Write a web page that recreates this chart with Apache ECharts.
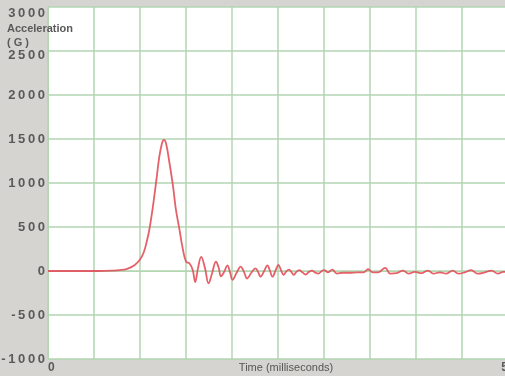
<!DOCTYPE html>
<html>
<head>
<meta charset="utf-8">
<script src="https://cdn.jsdelivr.net/npm/echarts@6/dist/echarts.min.js"></script>
<style>
	html, body { margin: 0; padding: 0; background: #d6d4d0; }
	#chart { width: 505px; height: 376px; }
</style>
</head>
<body>
<div id="chart"></div>
<script>
	// time in milliseconds
	var timeMs = [0, 0.3, 0.55, 0.7, 0.78, 0.86, 0.94, 1.0, 1.04, 1.07, 1.1, 1.14, 1.18, 1.21, 1.24, 1.26, 1.285, 1.32, 1.36, 1.39,
		1.43, 1.46, 1.5, 1.537, 1.573, 1.6, 1.63, 1.665, 1.705, 1.745, 1.785, 1.825, 1.855, 1.88, 1.915, 1.95, 1.98, 2.005, 2.05, 2.095,
		2.13, 2.165, 2.21, 2.255, 2.285, 2.31, 2.35, 2.385, 2.41, 2.44, 2.475, 2.505, 2.535, 2.56, 2.59, 2.62, 2.645, 2.67, 2.7, 2.73,
		2.765, 2.8, 2.835, 2.87, 2.9, 2.94, 2.97, 3.0, 3.045, 3.09, 3.14, 3.2, 3.28, 3.36, 3.43, 3.48, 3.53, 3.59, 3.665, 3.72,
		3.79, 3.86, 3.92, 3.99, 4.06, 4.13, 4.19, 4.26, 4.33, 4.4, 4.46, 4.53, 4.6, 4.67, 4.75, 4.82, 4.89, 4.95, 5.0];
	// acceleration in G
	var accelG = [0, 0, 0, 4, 10, 25, 65, 130, 210, 320, 460, 730, 1050, 1300, 1455, 1490, 1440, 1230, 955, 700,
		465, 280, 106, 88, 11, -125, 30, 160, 40, -140, -20, 105, 40, -60, -10, 65, -20, -100, -20, 50,
		-10, -85, -20, 30, -15, -65, 0, 65, 10, -65, 10, 68, 5, -45, -5, 15, -10, -45, -10, 10,
		-15, -40, -10, 5, -15, -30, -5, 10, -15, 15, -30, -20, -20, -15, -15, 20, -15, -15, 35, -30,
		-25, 5, -30, -10, -25, 5, -30, -15, -30, 5, -30, -15, 10, -30, -15, 5, -30, -10, -15];

	var xLabels = [0, 5];

	var points = [];
	for (var i = 0; i < timeMs.length; i++) {
		points.push([timeMs[i], accelG[i]]);
	}

	function spaced(v) {
		return String(v).split('').join('\u2009');
	}

	var gridGreen = '#b2d6b2';

	var myChart = echarts.init(document.getElementById('chart'));

	option = {
		backgroundColor: '#d6d4d0',
		animation: false,
		title: {
			text: 'Acceleration\n( G )',
			left: 7,
			top: 22,
			padding: 0,
			textStyle: {
				fontFamily: 'Liberation Sans',
				fontSize: 11,
				fontWeight: 'bold',
				color: '#5a5a5a',
				lineHeight: 14
			}
		},
		grid: {
			left: 48,
			right: -3,
			top: 7,
			bottom: 17,
			outerBoundsMode: 'none',
			containLabel: false,
			show: true,
			backgroundColor: '#ffffff',
			borderWidth: 0
		},
		xAxis: {
			type: 'value',
			min: 0,
			max: 5,
			interval: 0.5,
			name: 'Time (milliseconds)',
			nameLocation: 'middle',
			nameGap: 3,
			nameMoveOverlap: false,
			nameTextStyle: {
				fontFamily: 'Liberation Sans',
				fontSize: 11,
				color: '#555555',
				verticalAlign: 'top',
				padding: [0, 0, 0, 16]
			},
			axisLine: { show: true, lineStyle: { color: gridGreen, width: 1 } },
			axisTick: { show: false },
			axisLabel: {
				margin: 3,
				fontFamily: 'Liberation Sans',
				fontSize: 12,
				fontWeight: 'bold',
				color: '#5a5a5a',
				alignMinLabel: 'left',
				alignMaxLabel: 'right',
				formatter: function(v) {
					return xLabels.indexOf(v) >= 0 ? String(v) : '';
				}
			},
			splitLine: { show: true, lineStyle: { color: gridGreen, width: 1.5 } }
		},
		yAxis: {
			type: 'value',
			min: -1000,
			max: 3000,
			interval: 500,
			axisLine: { show: true, lineStyle: { color: gridGreen, width: 1 } },
			axisTick: { show: false },
			axisLabel: {
				margin: 3,
				fontFamily: 'Liberation Sans',
				fontSize: 13,
				fontWeight: 'bold',
				color: '#5a5a5a',
				verticalAlignMaxLabel: 'top',
				formatter: function(v) {
					return v === 2500 ? '{low|' + spaced(v) + '}' : spaced(v);
				},
				rich: {
					low: {
						fontFamily: 'Liberation Sans',
						fontSize: 13,
						fontWeight: 'bold',
						color: '#5a5a5a',
						padding: [8, 0, 0, 0]
					}
				}
			},
			splitLine: { show: true, lineStyle: { color: gridGreen, width: 1.5 } }
		},
		series: [{
			type: 'line',
			data: points,
			smooth: 0.4,
			showSymbol: false,
			lineStyle: {
				color: '#e2505a',
				width: 1.8,
				opacity: 0.9
			}
		}]
	};

	myChart.setOption(option);
</script>
</body>
</html>
